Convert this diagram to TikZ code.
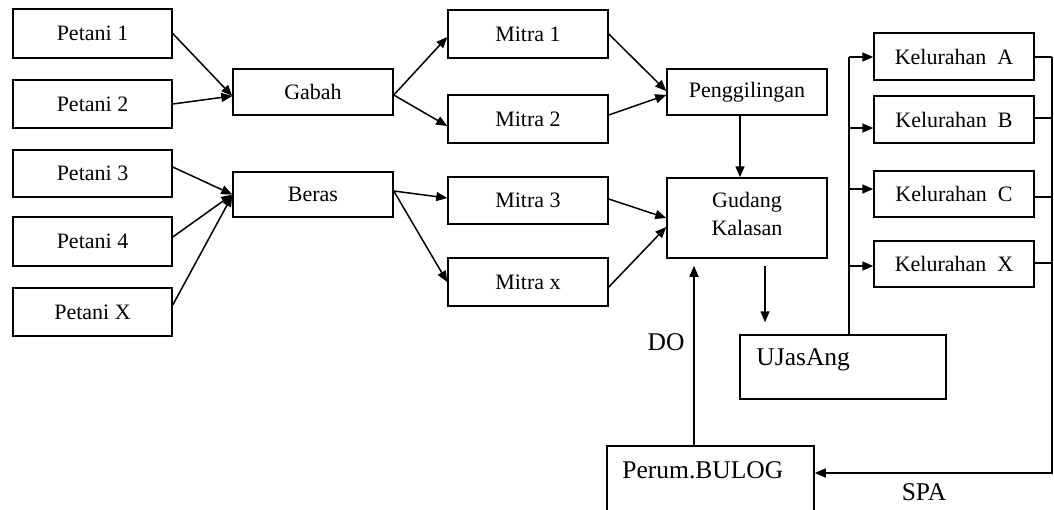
\documentclass[tikz,border=0pt]{standalone}
\usepackage{fontspec}
\setmainfont{Liberation Serif}
\usetikzlibrary{arrows.meta}
\tikzset{
  box/.style={draw, line width=1.5pt, inner sep=0pt, minimum width=159pt,
    minimum height=47pt, font=\fontsize{22}{26}\selectfont},
  line/.style={line width=1.5pt},
  arr/.style={line width=1.5pt, -{Triangle[length=11pt,width=9pt]}},
  bigtext/.style={font=\fontsize{25.5}{30}\selectfont, inner sep=0pt}
}
\begin{document}
\begin{tikzpicture}[x=1pt,y=-1pt]
\useasboundingbox (0,0) rectangle (1054,509);
\clip (0,0) rectangle (1054,509);

% farmers
\node[box, minimum height=49pt] (p1) at (92.5,33.5) {Petani 1};
\node[box, minimum height=48pt] (p2) at (92.5,104) {Petani 2};
\node[box] (p3) at (92.5,173.5) {Petani 3};
\node[box, minimum height=49pt] (p4) at (92.5,241.5) {Petani 4};
\node[box, minimum height=48pt] (px) at (92.5,312) {Petani X};

% products
\node[box, minimum width=160pt, minimum height=46pt] (gabah) at (313,92) {Gabah};
\node[box, minimum width=160pt, minimum height=45pt] (beras) at (313,194.5) {Beras};

% partners
\node[box, minimum width=160pt, minimum height=48pt] (m1) at (528,34) {Mitra 1};
\node[box, minimum width=160pt, minimum height=48pt] (m2) at (528,119) {Mitra 2};
\node[box, minimum width=160pt] (m3) at (528,200.5) {Mitra 3};
\node[box, minimum width=160pt, minimum height=48pt] (mx) at (528,282) {Mitra x};

% mill and warehouse
\node[box, minimum width=160pt, minimum height=46pt] (peng) at (747,92) {Penggilingan};
\node[box, minimum width=160pt, minimum height=80pt,
  label={[yshift=4pt, align=center, font=\fontsize{22}{28}\selectfont]center:Gudang\\Kalasan}]
  (gudang) at (747,218) {};

% districts
\node[box, minimum width=160pt] (ka) at (954,56.5) {Kelurahan\ \ A};
\node[box, minimum width=160pt] (kb) at (954,119.5) {Kelurahan\ \ B};
\node[box, minimum width=160pt, minimum height=46pt] (kc) at (954,194) {Kelurahan\ \ C};
\node[box, minimum width=160pt, minimum height=46pt] (kx) at (954,264) {Kelurahan\ \ X};

% transport unit and Bulog
\node[box, minimum width=206pt, minimum height=64pt,
  label={[bigtext, anchor=west, xshift=17pt, yshift=7pt]west:UJasAng}]
  (uja) at (843,367) {};
\node[box, minimum width=207pt, minimum height=84pt,
  label={[bigtext, anchor=west, xshift=16pt, yshift=18pt]west:Perum.BULOG}]
  (bulog) at (710.5,488) {};

\node[bigtext] (do) at (666,342) {DO};
\node[bigtext] (spa) at (924,492) {SPA};

% farmers to products
\draw[arr] (p1.east) -- ([yshift=-4pt]gabah.west);
\draw[arr] (p2.east) -- ([yshift=-4pt]gabah.west);
\draw[arr] ([yshift=6.5pt]p3.east) -- (beras.west);
\draw[arr] ([yshift=4.5pt]p4.east) -- (beras.west);
\draw[arr] ([yshift=7pt]px.east) -- ([yshift=-1pt]beras.west);

% products to partners
\draw[arr] ([yshift=-3pt]gabah.east) -- ([yshift=-3pt]m1.west);
\draw[arr] ([yshift=-3pt]gabah.east) -- ([yshift=-7pt]m2.west);
\draw[arr] ([yshift=3.5pt]beras.east) -- ([yshift=2.5pt]m3.west);
\draw[arr] ([yshift=3.5pt]beras.east) -- (mx.west);

% partners to mill and warehouse
\draw[arr] (m1.east) -- ([yshift=1pt]peng.west);
\draw[arr] ([yshift=4pt]m2.east) -- ([yshift=-3pt]peng.west);
\draw[arr] ([yshift=1.5pt]m3.east) -- (gudang.west);
\draw[arr] ([yshift=-5pt]mx.east) -- ([yshift=-9pt]gudang.west);
\draw[arr] ([xshift=-7pt]peng.south) -- ([xshift=-7pt]gudang.north);

% warehouse, transport unit and Bulog
\draw[arr] ([xshift=-16.5pt]bulog.north) -- ([xshift=-53pt,yshift=-7pt]gudang.south);
\draw[arr] ([xshift=18pt,yshift=-7pt]gudang.south) -- ([xshift=-78pt,yshift=12pt]uja.north);

% distribution bus to the districts
\coordinate (bus) at (849,57);
\draw[line] ([xshift=6pt]uja.north) -- (bus);
\draw[arr] (bus) -- ([yshift=-0.5pt]ka.west);
\draw[arr] ([yshift=-8.5pt]kb.west -| bus) -- ([yshift=-8.5pt]kb.west);
\draw[arr] ([yshift=5pt]kc.west -| bus) -- ([yshift=5pt]kc.west);
\draw[arr] ([yshift=-2pt]kx.west -| bus) -- ([yshift=-2pt]kx.west);

% return line from the districts to Bulog
\coordinate (rbus) at (1052,57);
\coordinate (rcorner) at (1052,473);
\draw[line] ([yshift=-0.5pt]ka.east) -- (rbus);
\draw[line] ([yshift=1.5pt]kb.east) -- ([yshift=1.5pt]kb.east -| rbus);
\draw[line] ([yshift=-3pt]kc.east) -- ([yshift=-3pt]kc.east -| rbus);
\draw[line] ([yshift=1pt]kx.east) -- ([yshift=1pt]kx.east -| rbus);
\draw[arr] (rbus) -- (rcorner) -- ([yshift=15pt]bulog.east);
\end{tikzpicture}
\end{document}
